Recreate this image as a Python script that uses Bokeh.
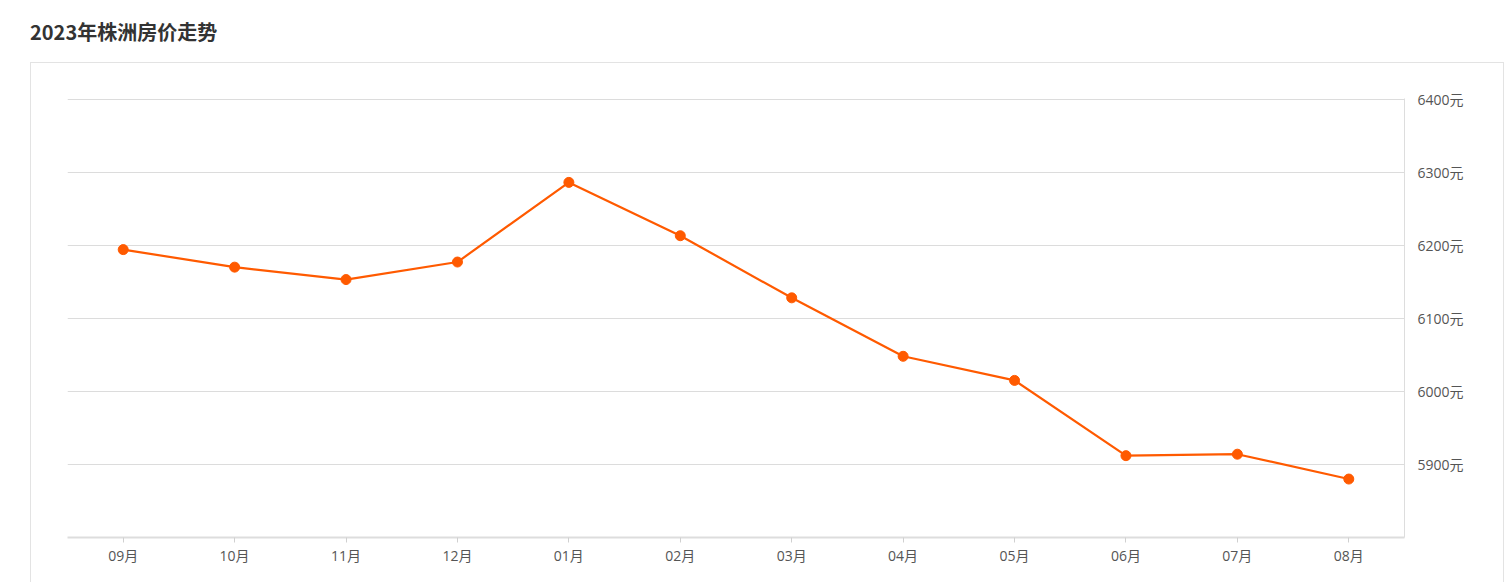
from bokeh.plotting import figure
from bokeh.layouts import column
from bokeh.models import Div, FixedTicker, PrintfTickFormatter, LinearAxis, Range1d, FactorRange
from bokeh.embed import file_html
from bokeh.resources import INLINE

title_text = "2023年株洲房价走势"
months = ["09月", "10月", "11月", "12月", "01月", "02月", "03月", "04月", "05月", "06月", "07月", "08月"]
prices = [6194, 6170, 6153, 6177, 6286, 6213, 6128, 6048, 6015, 5912, 5914, 5880]
y_ticks = [5900, 6000, 6100, 6200, 6300, 6400]

FONT = "'Open Sans', 'Noto Sans CJK SC', sans-serif"
LINE = "#ff5a00"

title = Div(
    text=title_text,
    width=600, height=30,
    margin=(20, 0, 0, 30),
    styles={"font-size": "20px", "font-weight": "bold", "color": "#333333",
            "font-family": "'Noto Sans CJK SC', sans-serif", "line-height": "24px"},
)

p = figure(
    x_range=FactorRange(*months, range_padding=0),
    y_range=Range1d(5800, 6400.8),
    width=1474, height=520,
    output_backend="svg", toolbar_location=None,
    y_axis_location=None,
    min_border_left=36, min_border_top=35, min_border_right=101, min_border_bottom=46,
    margin=(12, 0, 0, 30),
    background_fill_color="white", border_fill_color="white",
    styles={"border": "1px solid #e3e3e3", "border-bottom": "none"},
)
p.outline_line_color = None

yax = LinearAxis(
    ticker=FixedTicker(ticks=y_ticks),
    formatter=PrintfTickFormatter(format="%d元"),
)
yax.axis_line_color = "#dddddd"
yax.axis_line_width = 1
yax.major_tick_line_color = None
yax.minor_tick_line_color = None
yax.major_label_standoff = 7
yax.major_label_text_font = FONT
yax.major_label_text_font_size = "14px"
yax.major_label_text_color = "#555555"
p.add_layout(yax, "right")

p.ygrid.ticker = FixedTicker(ticks=y_ticks)
p.ygrid.grid_line_color = "#dcdcdc"
p.ygrid.grid_line_width = 1
p.xgrid.grid_line_color = None

xax = p.xaxis[0]
xax.axis_line_color = "#dddddd"
xax.axis_line_width = 2
xax.major_tick_line_color = "#d0d0d0"
xax.major_tick_in = 0
xax.major_tick_out = 5
xax.minor_tick_line_color = None
xax.major_label_standoff = 3
xax.major_label_text_font = FONT
xax.major_label_text_font_size = "14px"
xax.major_label_text_color = "#555555"

p.line(months, prices, line_color=LINE, line_width=2.2)
p.scatter(months, prices, size=10, fill_color=LINE, line_color=LINE)

layout = column(title, p)
open("out.html", "w").write(file_html(layout, INLINE))
